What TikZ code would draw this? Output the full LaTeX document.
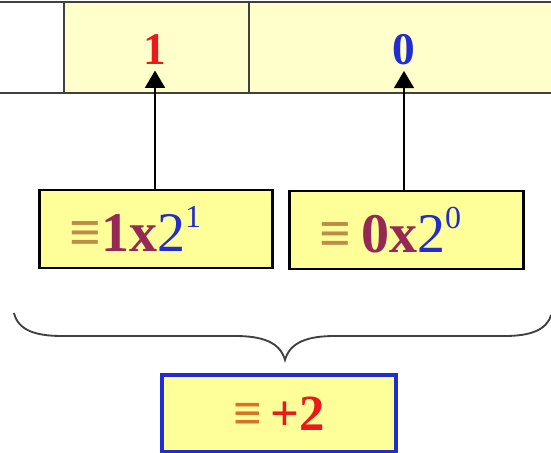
\documentclass[tikz,border=0pt]{standalone}
\usepackage{fontspec}
\setmainfont{Liberation Serif}
\usetikzlibrary{arrows.meta}

\definecolor{celly}{RGB}{255,255,204}
\definecolor{boxy}{RGB}{255,255,153}
\definecolor{eqtan}{RGB}{190,140,70}
\definecolor{eqorange}{RGB}{214,115,40}
\definecolor{wtmaroon}{RGB}{150,40,85}
\definecolor{bitblue}{RGB}{35,45,205}
\definecolor{bitred}{RGB}{235,25,25}

\newcommand{\supdig}[1]{\raisebox{0.42em}{\fontsize{24}{26}\selectfont\mdseries #1}}

\begin{document}
\begin{tikzpicture}[x=0.75pt, y=-0.75pt,
            cell/.style={minimum height=68.25pt, inner sep=0pt},
            rule/.style={draw=black!75, line width=1.4pt},
            bit/.style={font=\fontsize{34}{36}\selectfont\bfseries, inner sep=0pt},
            wtbox/.style={draw=black, line width=2.2pt, fill=boxy, minimum height=58.5pt,
                          text width=130pt, inner xsep=22.5pt, align=left,
                          font=\fontsize{42}{46}\selectfont\bfseries},
            sumbox/.style={draw=bitblue, line width=2.4pt, fill=boxy, minimum width=175.5pt,
                           minimum height=57.75pt, font=\fontsize{38}{42}\selectfont\bfseries},
            arr/.style={line width=1.4pt, -{Triangle[length=13pt, width=15pt]}},
          ]
          \useasboundingbox (0,0) rectangle (551,453);
          % register cells
          \node[cell, fill=white, minimum width=48pt] (c0) at (32,47.5) {};
          \node[cell, fill=celly, minimum width=138.75pt] (c1) at (156.5,47.5) {};
          \node[cell, fill=celly, minimum width=233.25pt] (c2) at (404.5,47.5) {};
          \draw[rule] (c0.north west) -- (c2.north east);
          \draw[rule] (c0.south west) -- (c2.south east);
          \draw[rule] (c1.north west) -- (c1.south west);
          \draw[rule] (c2.north west) -- (c2.south west);
          \node[bit, bitred] (d1) at (155,50) {1};
          \node[bit, bitblue] (d0) at (404,50) {0};
          % weights
          \node[wtbox] (w1) at (156,229) {\textcolor{eqtan}{≡}\textcolor{wtmaroon}{1x}\textcolor{bitblue}{\mdseries 2\supdig{1}}};
          \node[wtbox] (w0) at (406.5,230) {\textcolor{eqtan}{≡}\,\textcolor{wtmaroon}{0x}\textcolor{bitblue}{\mdseries 2\supdig{0}}};
          \draw[arr] (w1.north -| d1) -- ([yshift=-4pt]d1.south);
          \draw[arr] (w0.north -| d0) -- ([yshift=-4pt]d0.south);
          % brace and result
          \coordinate (bl) at (14,313);
          \coordinate (br) at (551,315);
          \coordinate (tip) at (285,360);
          \draw[black!75, line width=1.4pt] (bl) .. controls (18,330) and (35,336) .. (62,336) -- (235,336)
                .. controls (262,336) and (280,342) .. (tip)
                .. controls (290,342) and (308,336) .. (335,336) -- (505,336)
                .. controls (530,336) and (547,330) .. (br);
          \node[sumbox] (sum) at (279,413.5) {\textcolor{eqorange}{≡}\,\textcolor{bitred}{+2}};
        \end{tikzpicture}
\end{document}
